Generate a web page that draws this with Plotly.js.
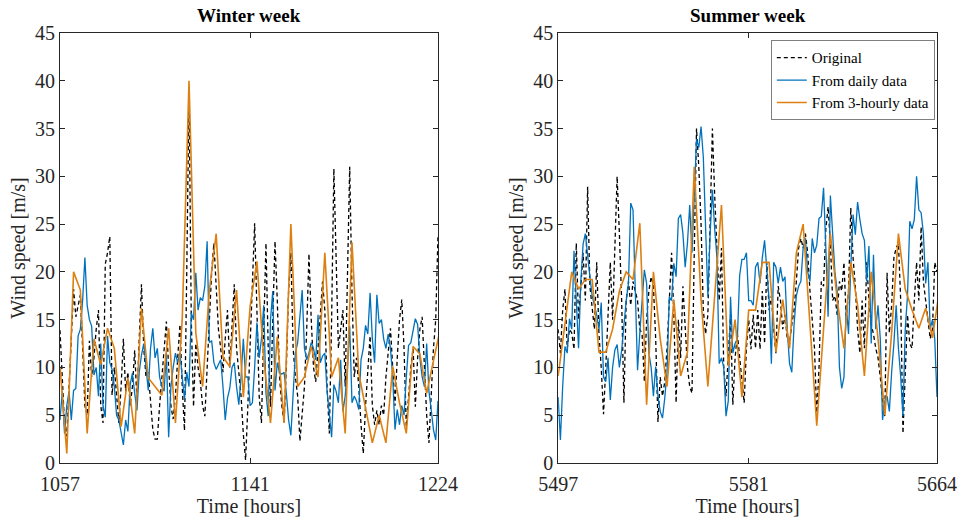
<!DOCTYPE html>
<html>
<head>
<meta charset="utf-8">
<script src="https://cdn.plot.ly/plotly-3.0.1.min.js"></script>
<style>html,body{margin:0;padding:0;background:#fff;}#chart{width:961px;height:519px;}</style>
</head>
<body>
<div id="chart"></div>
<script>
// ---------- DATA ----------
const winterStart = 1057;
const summerStart = 5497;
const winterTicks = [1057, 1141, 1224];
const summerTicks = [5497, 5581, 5664];
const yTicks = [0, 5, 10, 15, 20, 25, 30, 35, 40, 45];

// Winter week, hourly
const winterOriginal = [
 13.9, 9, 4, 2.8, 8, 14, 18.2, 15.3, 16.5, 17.6,
 12, 6, 5, 12.8, 9, 11, 14, 16, 6, 4.2,
 20.8, 22, 23.7, 7.1, 10, 7, 4.2, 8, 13, 7.5,
 9.5, 6, 8, 11.8, 6.5, 13, 18.7, 12, 9, 9.5,
 6, 3.5, 2.5, 2.5, 6, 9, 12, 14.8, 10, 6,
 4.6, 7, 11, 14.5, 8, 3.4, 20, 39, 15, 5.9,
 12.5, 10, 8.5, 6, 4.9, 10, 16.4, 20, 23, 19,
 14, 12, 9.5, 13, 16, 10, 15, 18.7, 12, 9,
 7, 3, 0.3, 6, 13, 18, 25.1, 16, 7, 4.2,
 14, 23, 12, 5.9, 15, 23.2, 17, 9, 6, 4.2,
 10, 18, 22, 12, 9, 7, 2.3, 5, 8, 14,
 21.9, 15, 10, 8.5, 12, 15, 19, 16, 8, 3.1,
 15, 30.8, 20, 12, 14, 16, 8, 20, 31, 18,
 9, 11, 8, 4, 1, 6, 10, 13.3, 6, 4,
 5.5, 4, 6, 5, 9, 12, 14.1, 10, 6, 11,
 15, 17.1, 12, 3.8, 7, 10, 12, 5.9, 11, 14,
 15.3, 10, 5, 2.1, 8, 12, 15, 23.9
];
const winterDaily = [
 4.5, 7.5, 3.1, 6, 7.5, 4.5, 7.6, 7.8, 13.3, 14,
 17, 21.5, 16.5, 15, 14.3, 9.2, 10, 7, 12.5, 6,
 4.8, 13.3, 10.5, 9.8, 8, 5, 4.5, 3, 1.9, 4.5,
 3.3, 8.2, 9.4, 7.3, 5.5, 9.5, 11.3, 12.5, 10, 7.6,
 12, 14.1, 11, 12, 9, 8, 7.5, 11.5, 2.7, 8,
 10, 11.5, 10.5, 11.5, 9, 6.7, 9.5, 8, 15.7, 15,
 19.9, 16, 17.3, 17, 18.5, 23.2, 12.6, 12.8, 10.5, 9.8,
 10.3, 10.8, 8, 4.5, 6.8, 7.8, 10, 10.5, 8, 6.1,
 9, 13, 9, 9, 6, 6.3, 10, 14.7, 11, 13,
 16.5, 7.3, 4.9, 15, 18, 7.6, 10.5, 9.5, 9.3, 9.5,
 7.3, 4.5, 2.9, 8, 11.5, 12.6, 15.5, 18.1, 12, 10.8,
 11.5, 12.6, 12, 10.8, 15.5, 10.5, 11.2, 11.5, 7.5, 5,
 2.7, 8.2, 7.5, 6.3, 10.8, 5.4, 7, 10, 14.3, 6.3,
 7, 6.5, 5.6, 10.8, 12, 14.4, 13.5, 17.8, 13, 10.5,
 17.6, 14.6, 15, 13, 12, 13.5, 12, 9, 3.5, 5.6,
 4, 6, 5, 9, 12.3, 12.6, 14, 15.1, 14.5, 11,
 9, 8, 12.5, 7.5, 5.6, 3.5, 2.4, 6.5
];
// Winter week, every 3 hours
const winter3h = [
 10.1, 1.0, 20.0, 18.1, 3.1, 13.0, 10.3, 14.1, 12.0, 3.8,
 8.9, 3.1, 16.2, 8.9, 8.0, 7.1, 14.1, 4.2, 15.0, 40.0,
 13.6, 8.0, 18.1, 24.0, 11.1, 10.1, 18.1, 6.9, 16.4, 21.1,
 11.0, 4.2, 13.2, 4.2, 25.0, 8.0, 9.0, 12.2, 9.0, 22.0,
 9.0, 11.0, 3.1, 23.1, 9.4, 5.9, 2.1, 5.0, 2.1, 10.1,
 6.3, 3.1, 12.2, 11.4, 7.3, 10.7, 14.0
];

// Summer week, hourly
const summerOriginal = [
 14, 11.5, 16, 18.2, 12, 14, 13.6, 11.9, 23, 15,
 18.5, 22, 17, 28.9, 18.5, 16, 14, 21, 13.5, 10,
 5.1, 10, 15, 21, 15, 22, 30, 24, 17, 6.3,
 17, 19, 16.5, 19, 18, 17, 14, 13.5, 8.5, 15,
 18, 19.5, 18.5, 13, 4.3, 9, 7, 8.5, 12, 17,
 22, 15.5, 6.3, 15, 11, 18.5, 14, 10, 8, 7.3,
 22, 35, 31, 25, 16, 13.5, 15.5, 26, 35, 28,
 21.5, 17, 22.5, 10, 7, 11, 15.5, 6.1, 11, 13.5,
 11, 8.5, 6.3, 12, 15, 11.9, 15.5, 12, 16, 11.9,
 18, 12.5, 21, 16, 17.5, 14, 11.5, 18.5, 17, 14,
 15.5, 13, 12.5, 14.5, 16, 19, 22.5, 23.5, 22.5, 24,
 22, 18, 15, 12, 4.9, 10, 19, 18.5, 24.5, 26.8,
 23, 17, 17.5, 15.5, 19, 18, 21, 15, 18, 26.7,
 21.5, 18.5, 14, 11.5, 17, 12, 21, 17, 14.5, 13.5,
 12, 11, 9, 6.5, 4.9, 19.9, 13.6, 16.5, 21.5, 22.5,
 23, 17, 3.1, 10, 15.5, 12.5, 12, 17, 21, 17,
 24.7, 19, 17, 15, 13, 14, 21, 20
];
const summerDaily = [
 6.9, 2.4, 8, 12.2, 11.5, 15.1, 14, 22.2, 17, 12,
 19, 22.9, 24, 21.5, 19.5, 17.5, 16.5, 15.5, 14, 16.8,
 9, 8.5, 11, 6.6, 10, 11.8, 12.4, 10, 11.8, 14.5,
 17, 18.8, 27.2, 26.5, 18.5, 9.7, 13.6, 17.5, 20.2, 18.8,
 11.5, 10, 7, 10.1, 7, 5.4, 4.7, 6.8, 9.5, 17.4,
 17, 20.9, 19.5, 25.6, 26, 24, 20.5, 23, 27, 22,
 28, 33.9, 33, 35.2, 32, 24, 17.4, 24, 28.6, 24.5,
 21.5, 10.4, 11, 10, 4.9, 6.5, 17.4, 11.5, 12.5, 13,
 19.6, 21.3, 21.3, 22, 17, 17, 16.5, 20.5, 21, 18.8,
 21.5, 23.3, 20.5, 17.1, 10.4, 21, 20.5, 18.8, 20.5, 19,
 19.5, 14, 10.4, 9.5, 14.5, 17.5, 18.5, 19, 22.5, 23.5,
 20, 19, 23.5, 22, 22.8, 25.6, 25.8, 28.8, 22.5, 15.3,
 28, 23.5, 20, 18, 10, 7.8, 9, 16.5, 13.5, 20.5,
 26, 23.9, 27.3, 25.5, 24, 23.3, 19, 22.7, 12.5, 21.8,
 14, 16.5, 13, 4.5, 6.5, 7, 5.4, 9.5, 12.5, 16.5,
 12, 9, 4.9, 14, 17.5, 25.3, 24.5, 25.5, 30, 26.5,
 26.2, 24, 18.8, 21, 14, 15, 13, 6.9
];
const summer3h = [
 9.1, 14.5, 20.0, 18.2, 19.2, 19.2, 11.6, 11.6, 14.0, 18.0,
 20.0, 19.2, 25.1, 6.1, 20.0, 13.0, 8.0, 17.1, 9.1, 11.6,
 31.0, 17.1, 8.0, 17.5, 27.0, 10.1, 15.0, 6.9, 16.0, 16.0,
 21.0, 21.0, 11.6, 17.1, 12.0, 22.0, 25.0, 14.5, 3.9, 14.0,
 24.0, 17.1, 12.0, 21.0, 16.5, 9.1, 20.0, 13.0, 5.0, 13.6,
 24.0, 18.2, 16.0, 14.1, 16.2, 13.1, 18.0
];

// ---------- BUILD ----------
const hours = (start, n, step) => Array.from({length: n}, (_, i) => start + i * step);
const AX = '#262626';
const FONT = '"Liberation Serif", "Times New Roman", serif';
const cOrig = '#000000', cDaily = '#0072BD', cThree = '#DD8011';

function series(start, orig, daily, three, xa, ya, legend) {
  return [
    {x: hours(start, orig.length, 1), y: orig, xaxis: xa, yaxis: ya, type: 'scatter', mode: 'lines',
     name: 'Original', showlegend: legend, line: {color: cOrig, width: 1.3, dash: '4px,3px'}},
    {x: hours(start, daily.length, 1), y: daily, xaxis: xa, yaxis: ya, type: 'scatter', mode: 'lines',
     name: 'From daily data', showlegend: legend, line: {color: cDaily, width: 1.3}},
    {x: hours(start, three.length, 3), y: three, xaxis: xa, yaxis: ya, type: 'scatter', mode: 'lines',
     name: 'From 3-hourly data', showlegend: legend, line: {color: cThree, width: 1.6}}
  ];
}

const data = [].concat(
  series(winterStart, winterOriginal, winterDaily, winter3h, 'x', 'y', false),
  series(summerStart, summerOriginal, summerDaily, summer3h, 'x2', 'y2', true)
);

function xax(domain, ticks, anchor) {
  return {domain: domain, anchor: anchor, range: [ticks[0], ticks[ticks.length - 1]],
    tickvals: ticks, ticktext: ticks.map(String), ticks: 'inside', ticklen: 5, tickcolor: AX,
    showline: true, linecolor: AX, linewidth: 1, mirror: 'ticks', showgrid: false, zeroline: false,
    ticklabelstandoff: 3,
    tickfont: {family: FONT, size: 20, color: AX},
    title: {text: 'Time [hours]', font: {family: FONT, size: 20, color: AX}, standoff: 4}};
}
function yax(anchor) {
  return {domain: [0, 1], anchor: anchor, range: [0, 45], tickvals: yTicks, ticks: 'inside', ticklen: 5,
    tickcolor: AX, showline: true, linecolor: AX, linewidth: 1, mirror: 'ticks', showgrid: false,
    zeroline: false, tickfont: {family: FONT, size: 20, color: AX},
    title: {text: 'Wind speed [m/s]', font: {family: FONT, size: 20, color: AX}, standoff: 4}};
}

const d1 = [0, 0.431], d2 = [0.568, 1];
const layout = {
  width: 961, height: 519,
  font: {family: FONT, color: '#000'},
  margin: {l: 60, r: 24, t: 33, b: 56},
  paper_bgcolor: '#fff', plot_bgcolor: '#fff',
  showlegend: true,
  xaxis: xax(d1, winterTicks, 'y'),
  yaxis: yax('x'),
  xaxis2: xax(d2, summerTicks, 'y2'),
  yaxis2: yax('x2'),
  legend: {x: 0.9975, xanchor: 'right', y: 0.983, yanchor: 'top', bgcolor: '#fff',
    bordercolor: '#7f7f7f', borderwidth: 1, font: {family: FONT, size: 15, color: '#000'},
    tracegroupgap: 0, itemwidth: 30},
  annotations: [
    {text: '<b>Winter week</b>', xref: 'paper', yref: 'paper', x: (d1[0] + d1[1]) / 2, y: 1.04,
     xanchor: 'center', yanchor: 'middle', showarrow: false, font: {family: FONT, size: 19, color: '#000'}},
    {text: '<b>Summer week</b>', xref: 'paper', yref: 'paper', x: (d2[0] + d2[1]) / 2, y: 1.04,
     xanchor: 'center', yanchor: 'middle', showarrow: false, font: {family: FONT, size: 19, color: '#000'}}
  ]
};

Plotly.newPlot('chart', data, layout, {displayModeBar: false, staticPlot: true});
</script>
</body>
</html>
